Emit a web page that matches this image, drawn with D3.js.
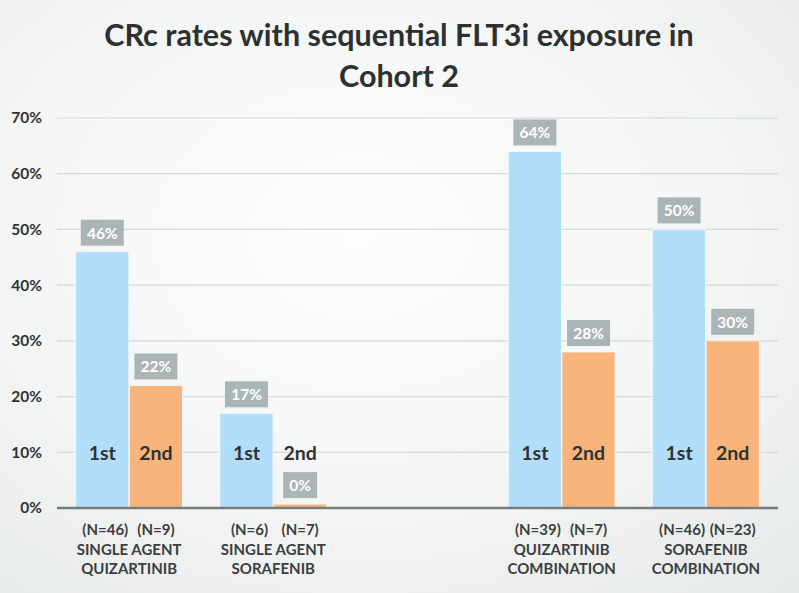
<!DOCTYPE html>
<html><head><meta charset="utf-8">
<script src="https://cdn.jsdelivr.net/npm/d3@7"></script>
<style>
html,body{margin:0;padding:0;}
body{width:799px;height:593px;overflow:hidden;}
svg{display:block;font-family:Lato,"Open Sans",sans-serif;}
</style></head>
<body>
<svg id="chart" width="799" height="593"></svg>
<script>
// ---- data ----
const titleLines = ["CRc rates with sequential FLT3i exposure in", "Cohort 2"];
const categories = ["SINGLE AGENT|QUIZARTINIB", "SINGLE AGENT|SORAFENIB", "", "QUIZARTINIB|COMBINATION", "SORAFENIB|COMBINATION"];
const series = ["1st", "2nd"];
const firstValues  = [46, 17, null, 64, 50];
const secondValues = [22, 0.7, null, 28, 30];
const firstLabels  = ["46%", "17%", null, "64%", "50%"];
const secondLabels = ["22%", "0%", null, "28%", "30%"];
const firstN  = ["(N=46)", "(N=6)", null, "(N=39)", "(N=46)"];
const secondN = ["(N=9)", "(N=7)", null, "(N=7)", "(N=23)"];
const yTicks = [0, 10, 20, 30, 40, 50, 60, 70];

// ---- layout ----
const W = 799, H = 593;
const m = {left: 57, right: 21, top: 118, bottom: 85};
const svg = d3.select("#chart");

const defs = svg.append("defs");
const grad = defs.append("radialGradient").attr("id","bg").attr("cx","45%").attr("cy","40%").attr("r","80%");
grad.append("stop").attr("offset","0%").attr("stop-color","#fdfdfd");
grad.append("stop").attr("offset","60%").attr("stop-color","#f3f4f4");
grad.append("stop").attr("offset","100%").attr("stop-color","#e6e9e9");
svg.append("rect").attr("width",W).attr("height",H).attr("fill","url(#bg)");

const x = d3.scaleBand().domain(d3.range(categories.length)).range([m.left, W - m.right]).paddingInner(0.26).paddingOuter(0.13);
const xs = d3.scaleBand().domain(series).range([0, x.bandwidth()]).paddingInner(0.01);
const y = d3.scaleLinear().domain([0, 70]).range([H - m.bottom, m.top]);

// title
svg.append("g").selectAll("text").data(titleLines).join("text")
  .attr("x", 399).attr("y", (d,i) => 46 + i*41)
  .attr("text-anchor","middle")
  .attr("font-size", 30.5).attr("font-weight", 700).attr("fill", "#2d3031")
  .text(d => d);

// gridlines
svg.append("g").selectAll("line").data(yTicks.filter(t => t > 0)).join("line")
  .attr("x1", m.left).attr("x2", W - m.right)
  .attr("y1", d => y(d)).attr("y2", d => y(d))
  .attr("stroke", "#d6d9d9").attr("stroke-width", 1.2);

// y axis labels
const yAxis = d3.axisLeft(y).tickValues(yTicks).tickFormat(d => d + "%").tickSize(0).tickPadding(15);
const ya = svg.append("g").attr("transform", `translate(${m.left},0)`).call(yAxis);
ya.select(".domain").remove();
ya.selectAll("text").attr("font-size", 15.5).attr("font-weight", 700).attr("fill", "#2f3233").attr("font-family","Lato, sans-serif");

// bars
const groups = categories.map((c,i) => ({i, c, vals: [
  {s: "1st", v: firstValues[i], lab: firstLabels[i], n: firstN[i]},
  {s: "2nd", v: secondValues[i], lab: secondLabels[i], n: secondN[i]}
]})).filter(g => g.c !== "");

const colors = {"1st": "#b2defb", "2nd": "#f8b47b"};
const g = svg.append("g").selectAll("g").data(groups).join("g")
  .attr("transform", d => `translate(${x(d.i)},0)`);

g.selectAll("rect.bar").data(d => d.vals).join("rect").attr("class","bar")
  .attr("x", d => xs(d.s)).attr("width", xs.bandwidth())
  .attr("y", d => y(d.v)).attr("height", d => y(0) - y(d.v))
  .attr("fill", d => colors[d.s]).attr("stroke", "#f4f8fb").attr("stroke-width", 0.8);

// series labels inside bars
g.selectAll("text.ser").data(d => d.vals).join("text").attr("class","ser")
  .attr("x", d => xs(d.s) + xs.bandwidth()/2).attr("y", y(10) + 3)
  .attr("text-anchor","middle").attr("dominant-baseline","middle")
  .attr("font-size", 19.5).attr("font-weight", 700).attr("fill", "#2e3233")
  .text(d => d.s);

// value label boxes
const lab = g.selectAll("g.lab").data(d => d.vals).join("g").attr("class","lab")
  .attr("transform", d => `translate(${xs(d.s) + xs.bandwidth()/2},${y(d.v) - 19})`);
lab.append("text")
  .attr("text-anchor","middle").attr("dominant-baseline","central")
  .attr("font-size", 15.5).attr("font-weight", 700).attr("fill", "#ffffff")
  .text(d => d.lab);
lab.each(function(d){
  const t = d3.select(this).select("text");
  const bb = t.node().getBBox();
  const w = bb.width + 12;
  d3.select(this).insert("rect","text")
    .attr("x", -w/2).attr("y", -13).attr("width", w).attr("height", 26)
    .attr("fill", "#a8b1b1").attr("opacity", 0.95);
});

// zero axis line
svg.append("line").attr("x1", m.left).attr("x2", W - m.right)
  .attr("y1", y(0)).attr("y2", y(0)).attr("stroke", "#767b7c").attr("stroke-width", 2.5);

// N labels
g.selectAll("text.n").data(d => d.vals).join("text").attr("class","n")
  .attr("x", d => xs(d.s) + xs.bandwidth()/2 + (d.s === "1st" ? 3 : 0)).attr("y", 535)
  .attr("text-anchor","middle")
  .attr("font-size", 15).attr("font-weight", 700).attr("fill", "#3b3f40")
  .text(d => d.n);

// category labels
g.append("text").attr("text-anchor","middle").attr("font-size", 15).attr("font-weight", 700).attr("fill", "#3b3f40")
  .selectAll("tspan").data(d => d.c.split("|")).join("tspan")
  .attr("x", x.bandwidth()/2).attr("y", (d,i) => 555 + i*19)
  .text(d => d);
</script>
</body></html>
